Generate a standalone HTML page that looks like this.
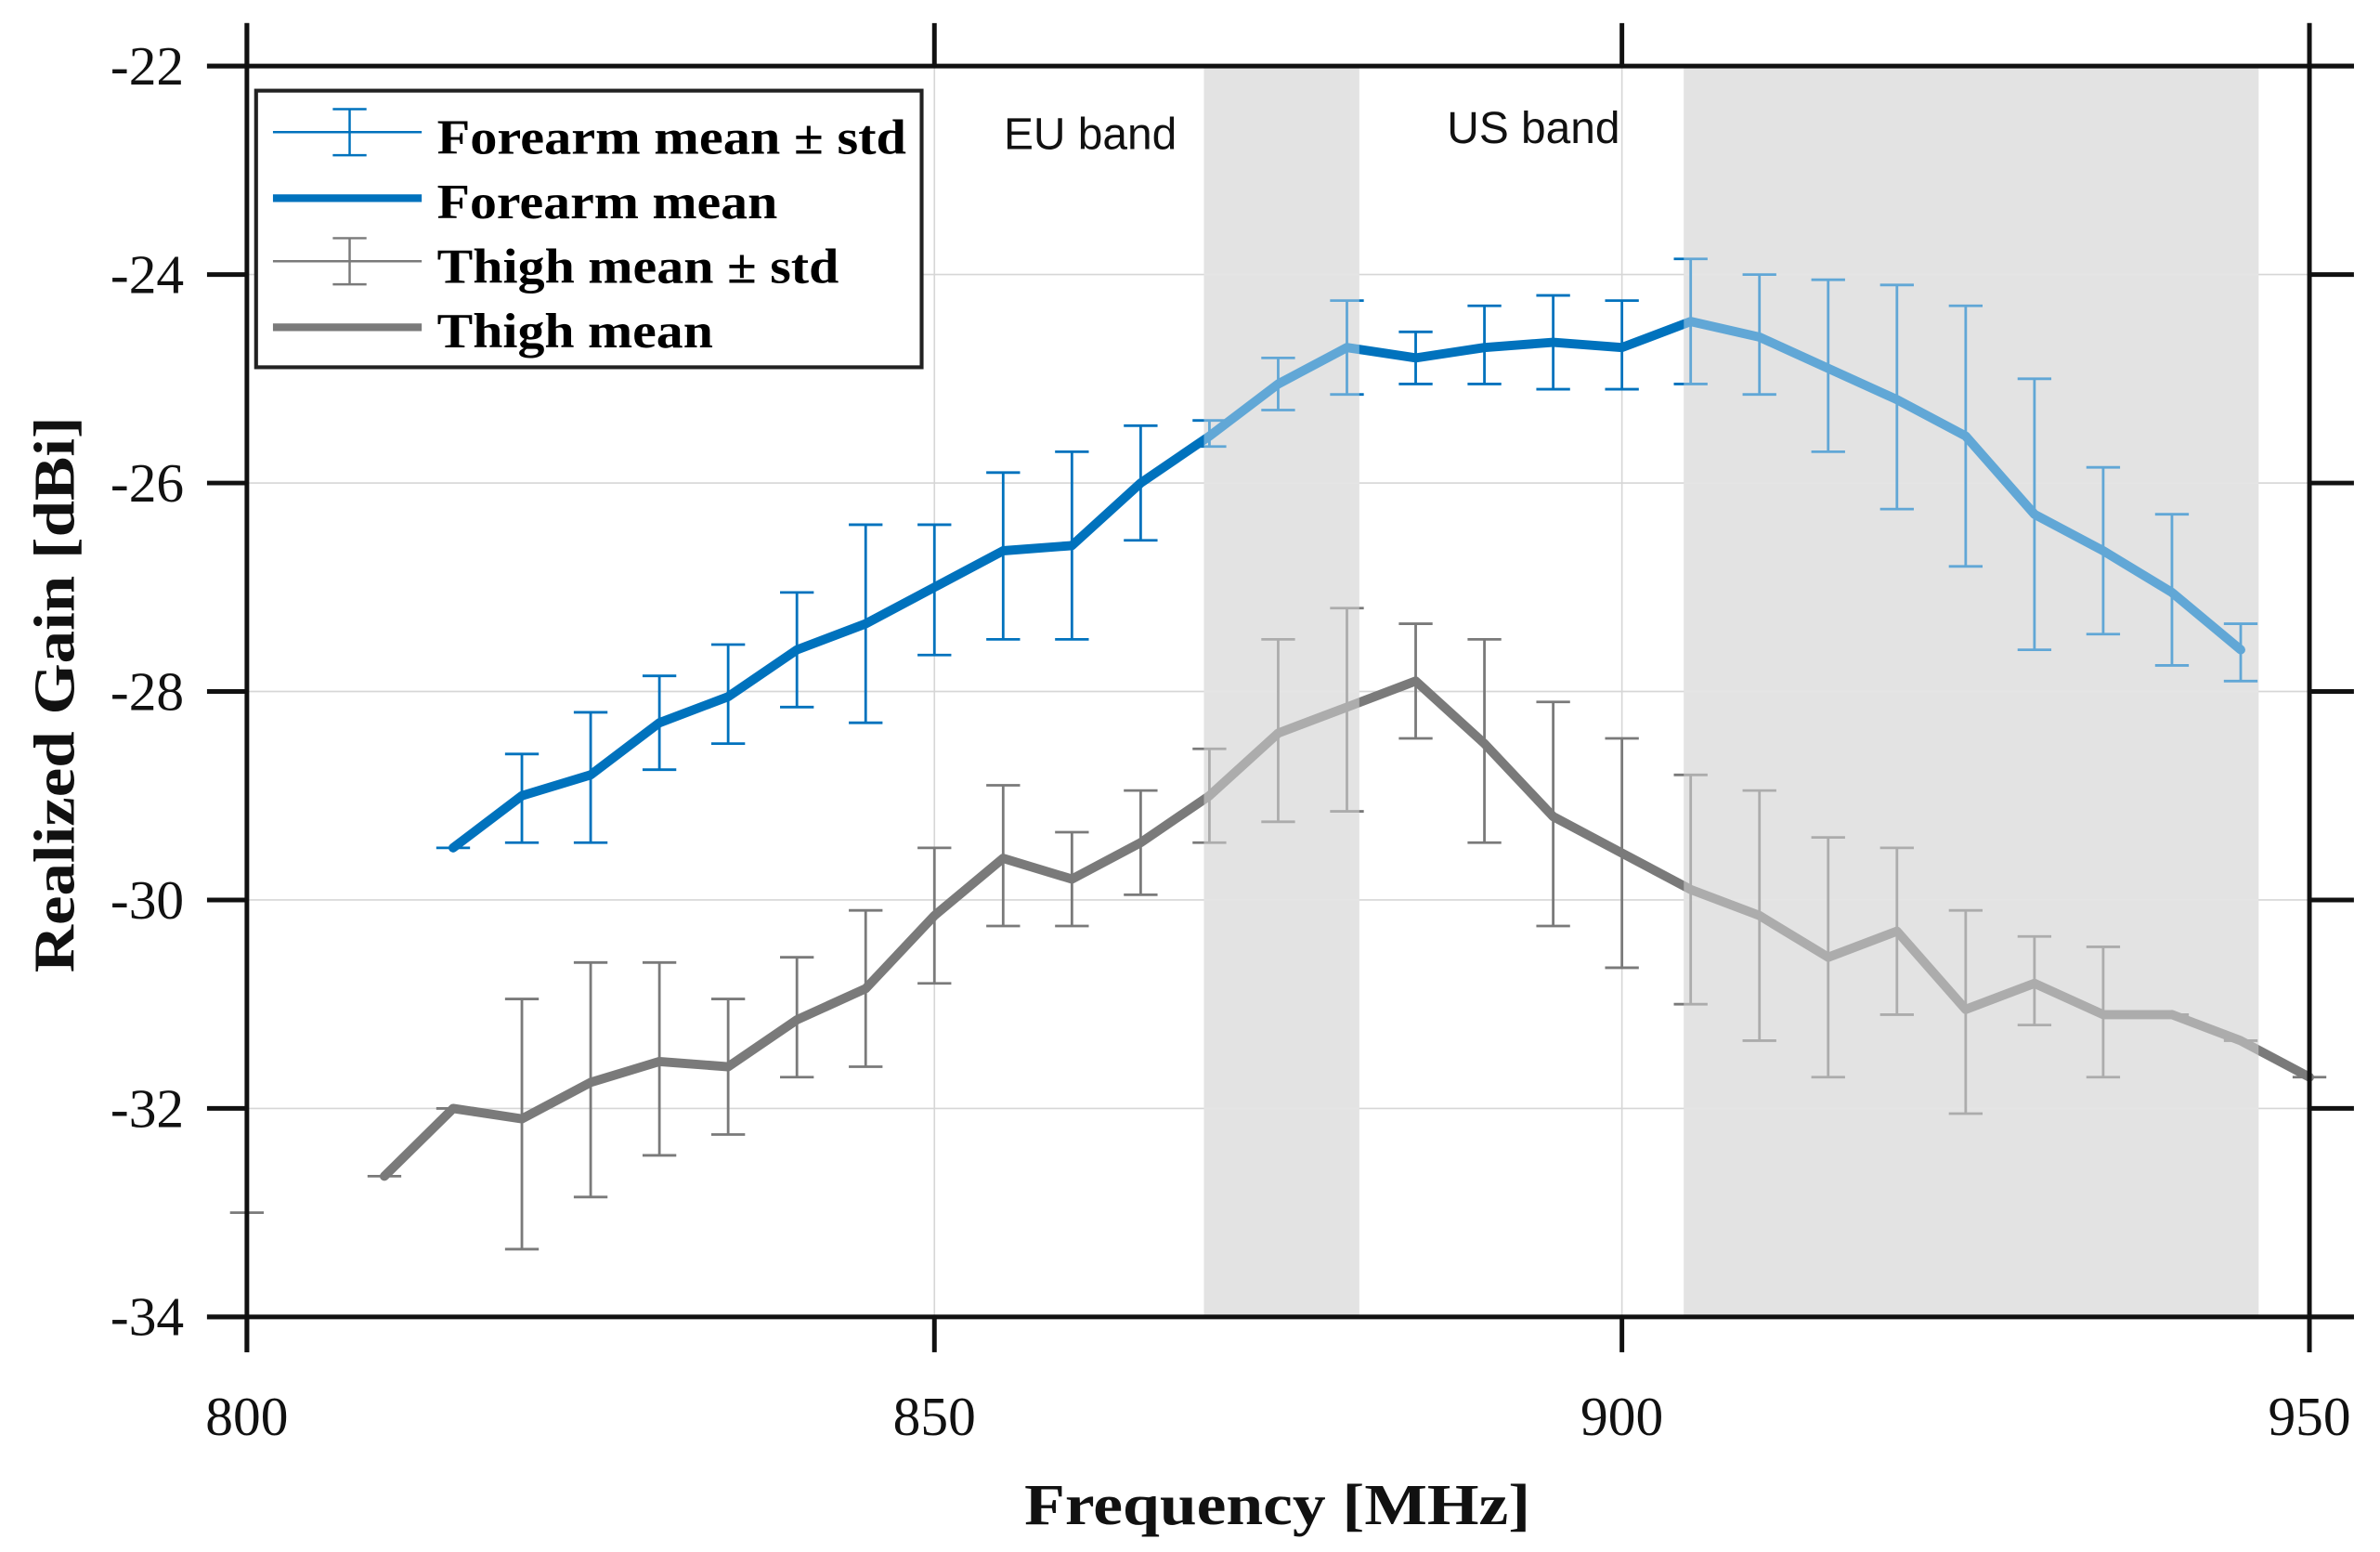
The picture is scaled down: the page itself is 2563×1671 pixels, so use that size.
<!DOCTYPE html>
<html><head><meta charset="utf-8"><style>
html,body{margin:0;padding:0;background:#fff;}
svg{display:block;}
</style></head><body>
<svg id="chart" width="2563" height="1671" viewBox="0 0 1552 1010" preserveAspectRatio="none" xmlns="http://www.w3.org/2000/svg">
<g id="bg"></g><g id="bands"></g><g id="grid"></g><g id="series"></g><g id="overlay"></g><g id="axes"></g><g id="legend"></g>
</svg>
<script>
const freqs=[800,805,810,815,820,825,830,835,840,845,850,855,860,865,870,875,880,885,890,895,900,905,910,915,920,925,930,935,940,945,950];
const foreMean=[null,null,null,-29.5,-29.0,-28.8,-28.3,-28.05,-27.6,-27.35,-27.0,-26.65,-26.6,-26.0,-25.55,-25.05,-24.7,-24.8,-24.7,-24.65,-24.7,-24.45,-24.6,-24.9,-25.2,-25.55,-26.3,-26.65,-27.05,-27.6,null];
const foreHi=[null,null,null,-29.5,-28.6,-28.2,-27.85,-27.55,-27.05,-26.4,-26.4,-25.9,-25.7,-25.45,-25.4,-24.8,-24.25,-24.55,-24.3,-24.2,-24.25,-23.85,-24.0,-24.05,-24.1,-24.3,-25.0,-25.85,-26.3,-27.35,null];
const foreLo=[null,null,null,-29.5,-29.45,-29.45,-28.75,-28.5,-28.15,-28.3,-27.65,-27.5,-27.5,-26.55,-25.65,-25.3,-25.15,-25.05,-25.05,-25.1,-25.1,-25.05,-25.15,-25.7,-26.25,-26.8,-27.6,-27.45,-27.75,-27.9,null];
const thighMean=[-33.0,null,-32.65,-32.0,-32.1,-31.75,-31.55,-31.6,-31.15,-30.85,-30.15,-29.6,-29.8,-29.45,-29.0,-28.4,-28.15,-27.9,-28.5,-29.2,-29.55,-29.9,-30.15,-30.55,-30.3,-31.05,-30.8,-31.1,-31.1,-31.35,-31.7];
const thighHi=[-33.0,null,-32.65,-32.0,-30.95,-30.6,-30.6,-30.95,-30.55,-30.1,-29.5,-28.9,-29.35,-28.95,-28.55,-27.5,-27.2,-27.35,-27.5,-28.1,-28.45,-28.8,-28.95,-29.4,-29.5,-30.1,-30.35,-30.45,-31.1,-31.35,-31.7];
const thighLo=[-33.0,null,-32.65,-32.0,-33.35,-32.85,-32.45,-32.25,-31.7,-31.6,-30.8,-30.25,-30.25,-29.95,-29.45,-29.25,-29.15,-28.45,-29.45,-30.25,-30.65,-31.0,-31.35,-31.7,-31.1,-32.05,-31.2,-31.7,-31.1,-31.35,-31.7];
const xTicks=[800,850,900,950];
const yTicks=[-22,-24,-26,-28,-30,-32,-34];
const bandStart=[869.6,904.5];
const bandEnd=[880.9,946.3];
const bandLabels=["EU band","US band"];

const NS="http://www.w3.org/2000/svg";
const X0=161,X1=1506,Y0=43,Y1=857;
const xs=f=>X0+(f-800)/150*(X1-X0);
const ys=v=>Y0+(-22-v)/12*(Y1-Y0);
function mk(tag,attrs,parent,text){const e=document.createElementNS(NS,tag);for(const k in attrs)e.setAttribute(k,attrs[k]);if(text!==undefined)e.textContent=text;parent.appendChild(e);return e;}
const g=id=>document.getElementById(id);

bandStart.forEach((s,i)=>{
 const r=mk('rect',{x:xs(s),y:Y0,width:xs(bandEnd[i])-xs(s),height:Y1-Y0,fill:'#d2d2d2'},g('bands'));
 
 
 const o=mk('rect',{x:xs(s),y:Y0,width:xs(bandEnd[i])-xs(s),height:Y1-Y0,fill:'#ffffff','fill-opacity':0.38},g('overlay'));
 
 
});
const lbl1=mk('text',{x:711,y:97,'font-family':'Liberation Sans, sans-serif','font-size':29,'text-anchor':'middle',fill:'#111'},g('bands'),bandLabels[0]);


const lbl2=mk('text',{x:1000,y:93,'font-family':'Liberation Sans, sans-serif','font-size':29,'text-anchor':'middle',fill:'#111'},g('bands'),bandLabels[1]);



yTicks.forEach(t=>{const l=mk('line',{x1:X0,x2:X1,y1:ys(t),y2:ys(t),stroke:'#d6d6d6','stroke-width':1},g('grid'));
 
 });
xTicks.forEach(t=>{const l=mk('line',{x1:xs(t),x2:xs(t),y1:Y0,y2:Y1,stroke:'#d6d6d6','stroke-width':1},g('grid'));
 
 });

function drawSeries(mean,hi,lo,color,name){
 const sg=mk('g',{},g('series'));
 
 
 let d2='';
 for(let i=0;i<mean.length-1;i++){if(mean[i]!==null&&mean[i+1]!==null){d2+='M'+xs(freqs[i])+','+ys(mean[i])+'L'+xs(freqs[i+1])+','+ys(mean[i+1]);}}
 const p=mk('path',{d:d2,fill:'none',stroke:color,'stroke-width':6,'stroke-linejoin':'round','stroke-linecap':'round'},sg);
 
 
 mean.forEach((v,i)=>{if(v===null)return;const x=xs(freqs[i]);
  const e=mk('path',{d:`M${x},${ys(hi[i])}L${x},${ys(lo[i])}M${x-11},${ys(hi[i])}L${x+11},${ys(hi[i])}M${x-11},${ys(lo[i])}L${x+11},${ys(lo[i])}`,stroke:color,'stroke-width':1.7,fill:'none'},sg);
  
  });
}
drawSeries(thighMean,thighHi,thighLo,'#7a7a7a','thigh');
drawSeries(foreMean,foreHi,foreLo,'#0072BD','forearm');

const ax=g('axes');
[[135,1535,Y0,Y0],[135,1535,Y1,Y1],[X0,X0,15,880],[X1,X1,15,880]].forEach((c,i)=>{
 const l=mk('line',{x1:c[0],x2:c[1],y1:c[2],y2:c[3],stroke:'#111','stroke-width':3},ax);
 
 });
yTicks.forEach(t=>{
 const a=mk('line',{x1:135,x2:X0,y1:ys(t),y2:ys(t),stroke:'#111','stroke-width':3},ax);
 
 
 const b=mk('line',{x1:X1,x2:1535,y1:ys(t),y2:ys(t),stroke:'#111','stroke-width':3},ax);
 
 
 const tx=mk('text',{x:120,y:ys(t)+12,'font-family':'Liberation Serif, serif','font-size':36,'text-anchor':'end',fill:'#111'},ax,String(t));
 
 
});
xTicks.forEach(t=>{
 const a=mk('line',{x1:xs(t),x2:xs(t),y1:15,y2:Y0,stroke:'#111','stroke-width':3},ax);
 
 
 const b=mk('line',{x1:xs(t),x2:xs(t),y1:Y1,y2:880,stroke:'#111','stroke-width':3},ax);
 
 
 const tx=mk('text',{x:xs(t),y:934,'font-family':'Liberation Serif, serif','font-size':36,'text-anchor':'middle',fill:'#111'},ax,String(t));
 
 
});
const xt=mk('text',{x:833,y:992,'font-family':'Liberation Serif, serif','font-size':38,'font-weight':'bold','text-anchor':'middle',fill:'#111',textLength:330,lengthAdjust:'spacingAndGlyphs'},ax,'Frequency [MHz]');


const yt=mk('text',{x:0,y:0,transform:'translate(48,452) rotate(-90)','font-family':'Liberation Serif, serif','font-size':38,'font-weight':'bold','text-anchor':'middle',fill:'#111',textLength:362,lengthAdjust:'spacingAndGlyphs'},ax,'Realized Gain [dBi]');



const lg=g('legend');
const box=mk('rect',{x:167,y:59,width:434,height:180,fill:'#fff',stroke:'#222','stroke-width':2.5},lg);


const entries=[['Forearm mean ± std','#0072BD','err',90,306],['Forearm mean','#0072BD','line',132,222],['Thigh mean ± std','#7a7a7a','err',174,262],['Thigh mean','#7a7a7a','line',216,180]];
entries.forEach(e=>{
 const eg=mk('g',{},lg);
 
 
 const y=e[3];
 if(e[2]==='err'){
  mk('path',{d:`M178,${y-4}L275,${y-4}M228,${y-19}L228,${y+11}M217,${y-19}L239,${y-19}M217,${y+11}L239,${y+11}`,stroke:e[1],'stroke-width':1.5,fill:'none'},eg);
 } else {
  mk('line',{x1:178,x2:275,y1:y-3,y2:y-3,stroke:e[1],'stroke-width':5},eg);
 }
 mk('text',{x:285,y:y+10,'font-family':'Liberation Serif, serif','font-size':32,'font-weight':'bold',fill:'#000',textLength:e[4],lengthAdjust:'spacingAndGlyphs'},eg,e[0]);
});
</script>
</body></html>
